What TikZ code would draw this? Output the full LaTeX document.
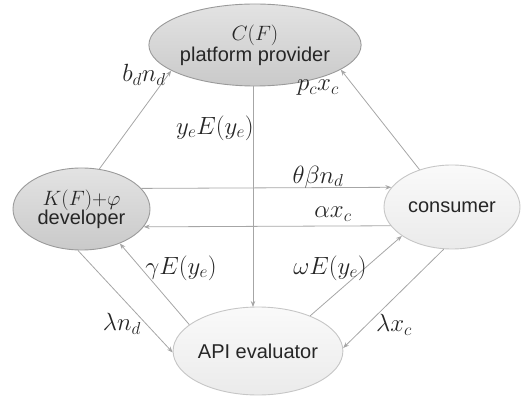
\documentclass[tikz,border=0pt]{standalone}
\usepackage{fontspec}
\setmainfont{Liberation Sans}
\usetikzlibrary{shapes.geometric,arrows.meta}
\definecolor{edgegray}{HTML}{A6A6A6}
\definecolor{rimgray}{HTML}{9A9A9A}
\definecolor{txt}{HTML}{262626}
\begin{document}
\begin{tikzpicture}[x=1pt,y=-1pt,
  every node/.style={font=\fontsize{20}{22}\selectfont, text=txt},
  darkell/.style={ellipse, draw=rimgray, line width=0.9pt, inner sep=0pt, top color=gray!22, bottom color=gray!42, align=center},
  lightell/.style={ellipse, draw=gray!45, line width=0.9pt, inner sep=0pt, top color=gray!4, bottom color=gray!16, align=center},
  conn/.style={draw=edgegray, line width=0.8pt, -{Stealth[length=6pt,width=4.5pt]}},
  lab/.style={inner sep=0pt, font=\fontsize{23.5}{26}\selectfont}
]
\useasboundingbox (0,0) rectangle (522,398);
\node[darkell, minimum width=176pt, minimum height=82pt] (plat) at (255,45) {\raisebox{2pt}{\fontsize{21.5}{24}\selectfont$C(F)$}\\[-3pt]platform provider};
\node[darkell, minimum width=137pt, minimum height=82pt] (dev) at (81.5,209) {{\fontsize{21.5}{24}\selectfont$K(F)\mathord{+}\varphi$}\\[-3pt]developer};
\node[lightell, minimum width=136pt, minimum height=84pt] (cons) at (452,207) {consumer};
\node[lightell, minimum width=154pt, minimum height=88pt] (api) at (258,351) {API evaluator};

\draw[conn] (dev.66) -- (plat.197);
\draw[conn] (cons.131) -- (plat.344);
\draw[conn] (plat.south -| 253,0) -- (253,307);
\draw[conn] (dev.19.7) -- (cons.162.6);
\draw[conn] (cons.197.4) -- (dev.344.7);
\draw[conn] (api.159) -- (dev.318);
\draw[conn] (dev.265) -- (api.181.5);
\draw[conn] (api.34.7) -- (cons.210);
\draw[conn] (cons.259) -- (api.2);

\node[lab] (l1) at (144,75) {$b_dn_d$};
\node[lab] (l2) at (318,88) {$p_cx_c$};
\node[lab] (l3) at (215,128) {$y_eE(y_e)$};
\node[lab] (l4) at (318,177) {$\theta\beta n_d$};
\node[lab] (l5) at (333,214) {$\alpha x_c$};
\node[lab] (l6) at (181,268) {$\gamma E(y_e)$};
\node[lab] (l7) at (330,268) {$\omega E(y_e)$};
\node[lab] (l8) at (122,324) {$\lambda n_d$};
\node[lab] (l9) at (394,325) {$\lambda x_c$};
\end{tikzpicture}
\end{document}
